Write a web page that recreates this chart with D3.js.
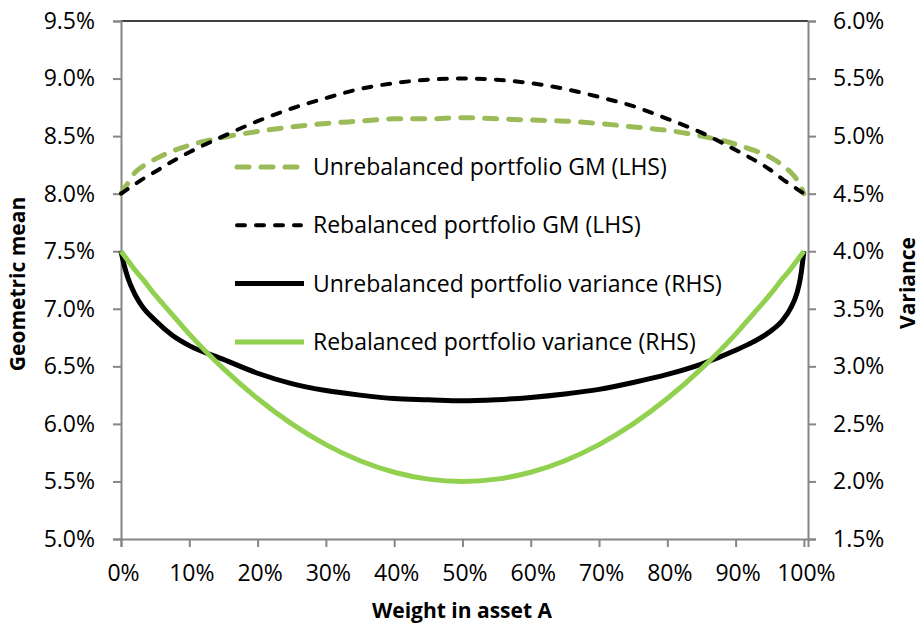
<!DOCTYPE html>
<html>
<head>
<meta charset="utf-8">
<script src="https://cdn.jsdelivr.net/npm/d3@7"></script>
<style>
  body { margin: 0; background: #fff; }
  text { font-family: "Open Sans", "Noto Sans", sans-serif; fill: #000; }
</style>
</head>
<body>
<script>
// weight in asset A (%)
var weights = [0, 0.5, 1, 2, 3, 5, 7.5, 10, 15, 20, 25, 30, 35, 40, 45, 50, 55, 60, 65, 70, 75, 80, 85, 90, 92.5, 95, 97, 98, 99, 99.5, 100]

// geometric means, LHS (%)
var unrebGM = [8.00, 8.05, 8.09, 8.18, 8.23, 8.30, 8.37, 8.42, 8.49, 8.54, 8.58, 8.61, 8.63, 8.65, 8.65, 8.66, 8.65, 8.64, 8.63, 8.61, 8.58, 8.55, 8.50, 8.43, 8.38, 8.32, 8.24, 8.19, 8.12, 8.07, 8.00]
var rebGM = [8.00, 8.02, 8.04, 8.08, 8.12, 8.19, 8.28, 8.36, 8.50, 8.63, 8.74, 8.83, 8.91, 8.96, 8.99, 9.00, 8.99, 8.96, 8.91, 8.84, 8.76, 8.65, 8.53, 8.38, 8.30, 8.21, 8.12, 8.08, 8.04, 8.02, 8.00]

// variances, RHS (%)
var unrebVar = [4.00, 3.87, 3.77, 3.63, 3.53, 3.40, 3.27, 3.18, 3.06, 2.94, 2.85, 2.79, 2.75, 2.72, 2.71, 2.70, 2.71, 2.73, 2.76, 2.80, 2.86, 2.93, 3.02, 3.14, 3.21, 3.30, 3.41, 3.50, 3.64, 3.77, 4.00]
var rebVar = [4.00, 3.96, 3.92, 3.84, 3.77, 3.62, 3.45, 3.28, 2.98, 2.72, 2.50, 2.32, 2.18, 2.08, 2.02, 2.00, 2.02, 2.08, 2.18, 2.32, 2.50, 2.72, 2.98, 3.28, 3.45, 3.62, 3.77, 3.84, 3.92, 3.96, 4.00]

var xTicks = [0, 10, 20, 30, 40, 50, 60, 70, 80, 90, 100]
var leftTicks = [5.0, 5.5, 6.0, 6.5, 7.0, 7.5, 8.0, 8.5, 9.0, 9.5]
var rightTicks = [1.5, 2.0, 2.5, 3.0, 3.5, 4.0, 4.5, 5.0, 5.5, 6.0]

var legendNames = ["Unrebalanced portfolio GM (LHS)", "Rebalanced portfolio GM (LHS)", "Unrebalanced portfolio variance (RHS)", "Rebalanced portfolio variance (RHS)"]

var width = 923
var height = 628
var margin = { top: 21, bottom: 89, left: 121, right: 115 }
var axisColor = "#868686"

var svg = d3.select("body").append("svg")
  .attr("width", width)
  .attr("height", height)

var escalaX = d3.scaleLinear()
  .domain([0, 100.6])
  .range([margin.left, width - margin.right])

var escalaYL = d3.scaleLinear()
  .domain([5.0, 9.5])
  .range([height - margin.bottom, margin.top])

var escalaYR = d3.scaleLinear()
  .domain([1.5, 6.0])
  .range([height - margin.bottom, margin.top])

// top border of plot area
svg.append("line")
  .attr("x1", margin.left).attr("x2", width - margin.right)
  .attr("y1", margin.top).attr("y2", margin.top)
  .attr("stroke", "#000").attr("stroke-width", 1.3)

function styleAxis(g) {
  g.select(".domain").attr("stroke", axisColor).attr("stroke-width", 2)
  g.selectAll(".tick line").attr("stroke", axisColor).attr("stroke-width", 2)
  g.selectAll(".tick text").style("font-size", "23px").attr("fill", "#000")
}

var pct = d3.format(".1f")

svg.append("g")
  .attr("transform", "translate(0," + (height - margin.bottom) + ")")
  .call(d3.axisBottom(escalaX).tickValues(xTicks).tickFormat(function(d) { return d + "%" }).tickSizeOuter(0).tickSize(8).tickPadding(18))
  .call(styleAxis)
  .selectAll(".tick text").attr("dx", 2)

svg.append("g")
  .attr("transform", "translate(" + margin.left + ",0)")
  .call(d3.axisLeft(escalaYL).tickValues(leftTicks).tickFormat(function(d) { return pct(d) + "%" }).tickSizeOuter(0).tickSize(8).tickPadding(18))
  .call(styleAxis)

svg.append("g")
  .attr("transform", "translate(" + (width - margin.right) + ",0)")
  .call(d3.axisRight(escalaYR).tickValues(rightTicks).tickFormat(function(d) { return pct(d) + "%" }).tickSizeOuter(0).tickSize(8).tickPadding(17))
  .call(styleAxis)

// series
var series = [
  { vals: unrebGM, y: escalaYL, color: "#9BBB59", w: 5, dash: "12,12" },
  { vals: rebGM, y: escalaYL, color: "#000000", w: 4, dash: "8,11" },
  { vals: unrebVar, y: escalaYR, color: "#000000", w: 5, dash: null },
  { vals: rebVar, y: escalaYR, color: "#92D050", w: 5, dash: null }
]

var drawOrder = [2, 3, 0, 1]
drawOrder.forEach(function(i) {
  var s = series[i]
  svg.append("path")
    .datum(weights)
    .attr("fill", "none")
    .attr("stroke", s.color)
    .attr("stroke-width", s.w)
    .attr("stroke-linecap", s.dash ? "round" : "butt")
    .attr("stroke-linejoin", "round")
    .attr("stroke-dasharray", s.dash)
    .attr("d", d3.line()
      .curve(d3.curveMonotoneX)
      .x(function(d) { return escalaX(d) })
      .y(function(d, j) { return s.y(s.vals[j]) })
    )
})

// legend
var leg = svg.append("g")
leg.selectAll("g")
  .data(legendNames)
  .enter()
  .append("g")
  .attr("transform", function(d, i) { return "translate(0," + (167 + i * 58.3) + ")" })
  .each(function(d, i) {
    var s = series[i]
    var g = d3.select(this)
    g.append("line")
      .attr("x1", s.dash ? 237 : 235).attr("x2", s.dash ? 301 : 304)
      .attr("y1", 0).attr("y2", 0)
      .attr("stroke", s.color)
      .attr("stroke-width", s.w)
      .attr("stroke-linecap", s.dash ? "round" : "butt")
      .attr("stroke-dasharray", s.dash)
    g.append("text")
      .attr("x", 313)
      .attr("dy", "0.35em")
      .style("font-size", "23px")
      .text(d)
  })

// axis titles
svg.append("text")
  .attr("x", 462).attr("y", 618)
  .attr("text-anchor", "middle")
  .style("font-size", "21px").style("font-weight", "bold")
  .text("Weight in asset A")

svg.append("text")
  .attr("transform", "translate(25,284) rotate(-90)")
  .attr("text-anchor", "middle")
  .style("font-size", "21px").style("font-weight", "bold")
  .text("Geometric mean")

svg.append("text")
  .attr("transform", "translate(915,283) rotate(-90)")
  .attr("text-anchor", "middle")
  .style("font-size", "21px").style("font-weight", "bold")
  .text("Variance")
</script>
</body>
</html>
